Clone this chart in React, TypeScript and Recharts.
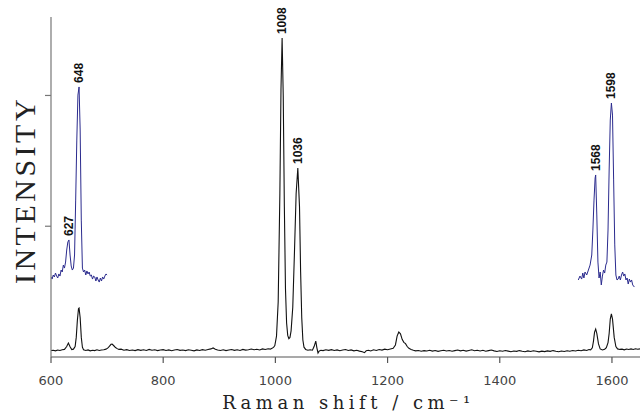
import React from "react";
import { LineChart, Line, XAxis, YAxis, ReferenceDot, Label } from "recharts";

// Raman shift (cm-1) tick values
const xTicks = [600, 800, 1000, 1200, 1400, 1600];
// unlabeled intensity ticks
const yTicks = [1000, 2000];

// main spectrum: [shift, intensity]
const mainSpectrum: [number, number][] = [
  [600, 50], [604, 52], [608, 47], [612, 53], [616, 50], [620, 55], [624, 58], [628, 80], [631, 107], [634, 78],
  [637, 57], [640, 60], [643, 80], [645, 150], [647, 280], [649, 370], [650, 375], [652, 300], [654, 150], [656, 75],
  [658, 55], [662, 50], [666, 54], [670, 47], [674, 52], [678, 49], [682, 55], [686, 50], [690, 53], [694, 56],
  [698, 60], [701, 68], [704, 82], [707, 97], [709, 99], [712, 86], [715, 72], [718, 64], [721, 58], [725, 60],
  [730, 52], [735, 56], [740, 50], [745, 54], [750, 49], [755, 56], [760, 51], [765, 55], [770, 50], [775, 58],
  [780, 52], [785, 55], [790, 49], [795, 53], [800, 56], [805, 50], [810, 54], [815, 48], [820, 53], [825, 57],
  [830, 51], [835, 54], [840, 49], [845, 55], [850, 52], [855, 47], [860, 54], [865, 50], [870, 56], [875, 52],
  [880, 57], [885, 62], [889, 69], [893, 60], [897, 53], [902, 50], [907, 55], [912, 49], [917, 53], [922, 57],
  [927, 51], [932, 55], [937, 50], [942, 58], [947, 53], [952, 56], [957, 61], [962, 55], [967, 59], [972, 54],
  [977, 62], [982, 57], [987, 63], [991, 60], [994, 66], [997, 75], [999, 88], [1002, 160], [1005, 420], [1008, 1250],
  [1010, 2050], [1012, 2439], [1014, 2000], [1016, 1150], [1018, 520], [1020, 260], [1022, 165], [1024, 140], [1026, 150], [1028, 200],
  [1031, 380], [1034, 800], [1037, 1250], [1040, 1445], [1043, 1150], [1045, 650], [1047, 300], [1049, 130], [1051, 75], [1054, 58],
  [1058, 52], [1062, 55], [1066, 52], [1069, 80], [1072, 122], [1074, 70], [1076, 31], [1078, 45], [1081, 52], [1085, 49],
  [1090, 55], [1095, 51], [1100, 56], [1105, 50], [1110, 54], [1115, 48], [1120, 53], [1125, 57], [1130, 50], [1135, 54],
  [1140, 47], [1145, 52], [1150, 45], [1155, 40], [1159, 33], [1162, 48], [1166, 52], [1170, 46], [1175, 55], [1180, 50],
  [1185, 57], [1190, 53], [1195, 60], [1200, 56], [1205, 61], [1210, 66], [1214, 92], [1217, 160], [1220, 191], [1223, 178],
  [1226, 135], [1229, 112], [1232, 102], [1235, 80], [1238, 66], [1242, 58], [1246, 52], [1250, 47], [1255, 50], [1260, 44],
  [1265, 49], [1270, 46], [1275, 52], [1280, 45], [1285, 50], [1290, 43], [1295, 48], [1300, 52], [1305, 46], [1310, 50],
  [1315, 44], [1320, 49], [1325, 53], [1330, 47], [1335, 51], [1340, 45], [1345, 50], [1350, 55], [1355, 48], [1360, 52],
  [1365, 46], [1370, 51], [1375, 44], [1380, 49], [1385, 53], [1390, 47], [1395, 42], [1400, 48], [1405, 44], [1410, 50],
  [1415, 45], [1420, 40], [1425, 46], [1430, 43], [1435, 49], [1440, 44], [1445, 40], [1450, 47], [1455, 42], [1460, 48],
  [1465, 44], [1470, 39], [1475, 45], [1480, 41], [1485, 47], [1490, 43], [1495, 49], [1500, 44], [1505, 40], [1510, 46],
  [1515, 42], [1520, 48], [1525, 44], [1530, 50], [1535, 46], [1540, 52], [1545, 48], [1550, 54], [1555, 50], [1559, 57],
  [1562, 55], [1565, 70], [1567, 120], [1569, 190], [1571, 214], [1573, 180], [1576, 100], [1579, 62], [1583, 54], [1587, 60],
  [1590, 72], [1593, 110], [1595, 180], [1597, 290], [1599, 329], [1601, 290], [1604, 150], [1607, 80], [1610, 62], [1614, 58],
  [1618, 60], [1622, 55], [1626, 61], [1630, 57], [1634, 62], [1638, 58], [1642, 63], [1646, 59], [1650, 62],
];

// magnified inset, 600-700 cm-1
const leftInset: [number, number][] = [
  [600, 612], [602, 596], [604, 627], [606, 612], [608, 642], [610, 619], [612, 604], [614, 635], [616, 619], [618, 665],
  [620, 650], [622, 703], [624, 680], [626, 726], [628, 818], [630, 879], [632, 895], [634, 780], [636, 696], [638, 665],
  [640, 680], [642, 780], [644, 1200], [646, 1659], [648, 2003], [650, 2065], [652, 1736], [654, 1047], [656, 680], [658, 650],
  [660, 665], [662, 627], [664, 658], [666, 635], [668, 650], [670, 619], [672, 627], [674, 596], [676, 619], [678, 612],
  [680, 581], [682, 612], [684, 589], [686, 573], [688, 604], [690, 581], [692, 612], [694, 596], [696, 619], [698, 635],
  [700, 627],
];

// magnified inset, 1540-1640 cm-1
const rightInset: [number, number][] = [
  [1540, 589], [1543, 619], [1546, 596], [1548, 642], [1550, 604], [1552, 650], [1555, 627], [1558, 665], [1561, 703], [1564, 780],
  [1566, 971], [1568, 1200], [1570, 1369], [1571, 1392], [1573, 1086], [1575, 726], [1577, 604], [1579, 650], [1581, 551], [1583, 619],
  [1585, 665], [1587, 642], [1589, 703], [1591, 726], [1593, 971], [1595, 1430], [1597, 1812], [1599, 1942], [1601, 1850], [1603, 1354],
  [1605, 857], [1607, 627], [1609, 589], [1611, 596], [1613, 619], [1615, 589], [1617, 627], [1619, 650], [1621, 619], [1623, 635],
  [1625, 589], [1627, 604], [1629, 558], [1631, 596], [1633, 573], [1635, 589], [1637, 551], [1640, 535],
];

type SeriesName = "main" | "leftInset" | "rightInset";
const peakLabels: { text: string; shift: number; series: SeriesName }[] = [
  { text: "627", shift: 632, series: "leftInset" },
  { text: "648", shift: 650, series: "leftInset" },
  { text: "1008", shift: 1012, series: "main" },
  { text: "1036", shift: 1040, series: "main" },
  { text: "1568", shift: 1571, series: "rightInset" },
  { text: "1598", shift: 1599, series: "rightInset" },
];

const toRows = (pairs: [number, number][]) => pairs.map(([shift, intensity]) => ({ shift, intensity }));
const seriesData: Record<SeriesName, { shift: number; intensity: number }[]> = {
  main: toRows(mainSpectrum),
  leftInset: toRows(leftInset),
  rightInset: toRows(rightInset),
};

const peakTop = (series: SeriesName, shift: number) => {
  const near = seriesData[series].filter((d) => Math.abs(d.shift - shift) <= 3);
  return near.reduce((a, b) => (b.intensity > a.intensity ? b : a));
};

const EmptyTick = () => <g />;

const makePeakLabel = (text: string) => (props: any) => {
  const { cx, cy } = props;
  const x = cx;
  const y = cy - 4;
  return (
    <text
      x={x}
      y={y}
      transform={`rotate(-90 ${x} ${y})`}
      textAnchor="start"
      dominantBaseline="central"
      fontFamily="'Liberation Sans Narrow', 'Liberation Sans', Arial, sans-serif"
      fontSize={12}
      fontWeight="bold"
      fill="#111"
    >
      {text}
    </text>
  );
};

const XTitle = (props: any) => {
  const vb = props.viewBox || { x: 51, y: 357, width: 589, height: 55 };
  return (
    <text
      x={vb.x + vb.width / 2 + 3}
      y={vb.y + 52}
      textAnchor="middle"
      fontFamily="'DejaVu Serif', serif"
      fontSize={18}
      letterSpacing={4.5}
      fill="#222"
    >
      Raman shift / cm⁻¹
    </text>
  );
};

const YTitle = (props: any) => {
  const vb = props.viewBox || { x: 0, y: 17, width: 51, height: 340 };
  const x = vb.x + 24;
  const y = vb.y + vb.height / 2 + 3;
  return (
    <text
      x={x}
      y={y}
      transform={`rotate(-90 ${x} ${y})`}
      textAnchor="middle"
      dominantBaseline="central"
      fontFamily="'Liberation Serif', serif"
      fontSize={30}
      letterSpacing={3.5}
      fill="#222"
    >
      INTENSITY
    </text>
  );
};

export default function App() {
  return (
    <div style={{ position: "fixed", left: 0, top: 0, width: 640, height: 412, background: "#fff" }}>
      <LineChart width={640} height={412} margin={{ top: 17, right: 0, bottom: 0, left: 0 }}>
        <XAxis
          type="number"
          dataKey="shift"
          domain={[600, 1650]}
          ticks={xTicks}
          allowDataOverflow
          height={55}
          tickSize={6}
          tickMargin={13}
          stroke="#555"
          strokeWidth={1.2}
          tick={{ fontFamily: "'DejaVu Sans', sans-serif", fontSize: 13, fill: "#444" }}
        >
          <Label content={XTitle} />
        </XAxis>
        <YAxis
          type="number"
          domain={[0, 2600]}
          ticks={yTicks}
          allowDataOverflow
          width={51}
          tickSize={6}
          stroke="#777"
          strokeWidth={1.2}
          tick={EmptyTick}
        >
          <Label content={YTitle} />
        </YAxis>
        <Line
          data={seriesData.main}
          dataKey="intensity"
          type="linear"
          stroke="#111"
          strokeWidth={1.1}
          dot={false}
          isAnimationActive={false}
        />
        <Line
          data={seriesData.leftInset}
          dataKey="intensity"
          type="linear"
          stroke="#2b2b8e"
          strokeWidth={1}
          dot={false}
          isAnimationActive={false}
        />
        <Line
          data={seriesData.rightInset}
          dataKey="intensity"
          type="linear"
          stroke="#2b2b8e"
          strokeWidth={1}
          dot={false}
          isAnimationActive={false}
        />
        {peakLabels.map((p) => {
          const top = peakTop(p.series, p.shift);
          return (
            <ReferenceDot
              key={p.text}
              x={top.shift}
              y={top.intensity}
              r={0}
              ifOverflow="visible"
              shape={makePeakLabel(p.text)}
            />
          );
        })}
      </LineChart>
    </div>
  );
}
